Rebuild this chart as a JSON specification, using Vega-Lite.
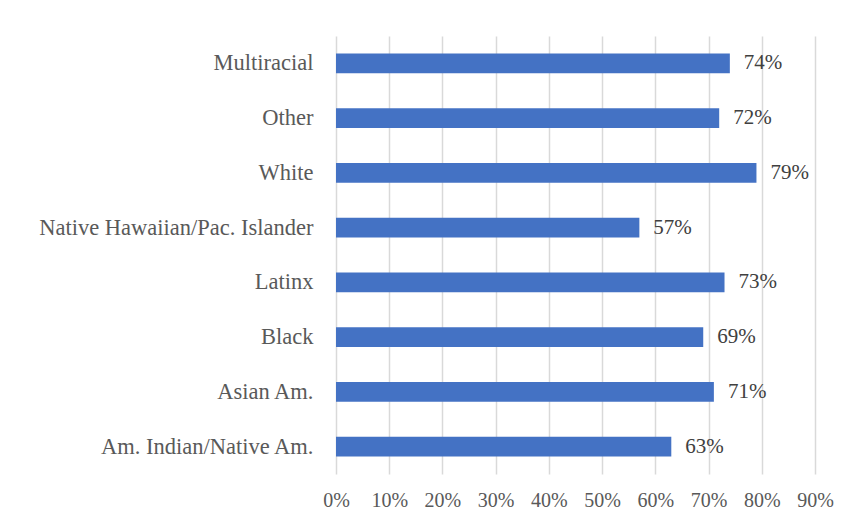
{
  "$schema": "https://vega.github.io/schema/vega-lite/v6.json",
  "autosize": {"type": "none"},
  "width": 479,
  "height": 438,
  "padding": {"left": 336, "top": 36, "right": 36, "bottom": 55},
  "background": "white",
  "data": {
    "values": [
      {"group": "Multiracial", "value": 0.74},
      {"group": "Other", "value": 0.72},
      {"group": "White", "value": 0.79},
      {"group": "Native Hawaiian/Pac. Islander", "value": 0.57},
      {"group": "Latinx", "value": 0.73},
      {"group": "Black", "value": 0.69},
      {"group": "Asian Am.", "value": 0.71},
      {"group": "Am. Indian/Native Am.", "value": 0.63}
    ]
  },
  "encoding": {
    "y": {
      "field": "group",
      "type": "nominal",
      "sort": null,
      "scale": {"paddingInner": 0.64, "paddingOuter": 0.32},
      "axis": {
        "title": null,
        "domain": false,
        "ticks": false,
        "labelPadding": 23,
        "labelFont": "Liberation Serif",
        "labelFontSize": 22.5,
        "labelColor": "#595959",
        "labelLimit": 400
      }
    },
    "x": {
      "field": "value",
      "type": "quantitative",
      "scale": {"domain": [0, 0.9], "nice": false},
      "axis": {
        "title": null,
        "format": ".0%",
        "values": [0, 0.1, 0.2, 0.3, 0.4, 0.5, 0.6, 0.7, 0.8, 0.9],
        "domain": false,
        "ticks": false,
        "grid": true,
        "gridColor": "#d9d9d9",
        "gridWidth": 1.5,
        "labelFlush": false,
        "labelOverlap": false,
        "labelPadding": 16,
        "labelFont": "Liberation Serif",
        "labelFontSize": 20,
        "labelColor": "#595959"
      }
    }
  },
  "layer": [
    {"mark": {"type": "bar", "color": "#4472C4"}},
    {
      "mark": {"type": "text", "align": "left", "dx": 14, "font": "Liberation Serif", "fontSize": 21, "color": "#404040"},
      "encoding": {"text": {"field": "value", "type": "quantitative", "format": ".0%"}}
    }
  ],
  "config": {"view": {"stroke": null}}
}
